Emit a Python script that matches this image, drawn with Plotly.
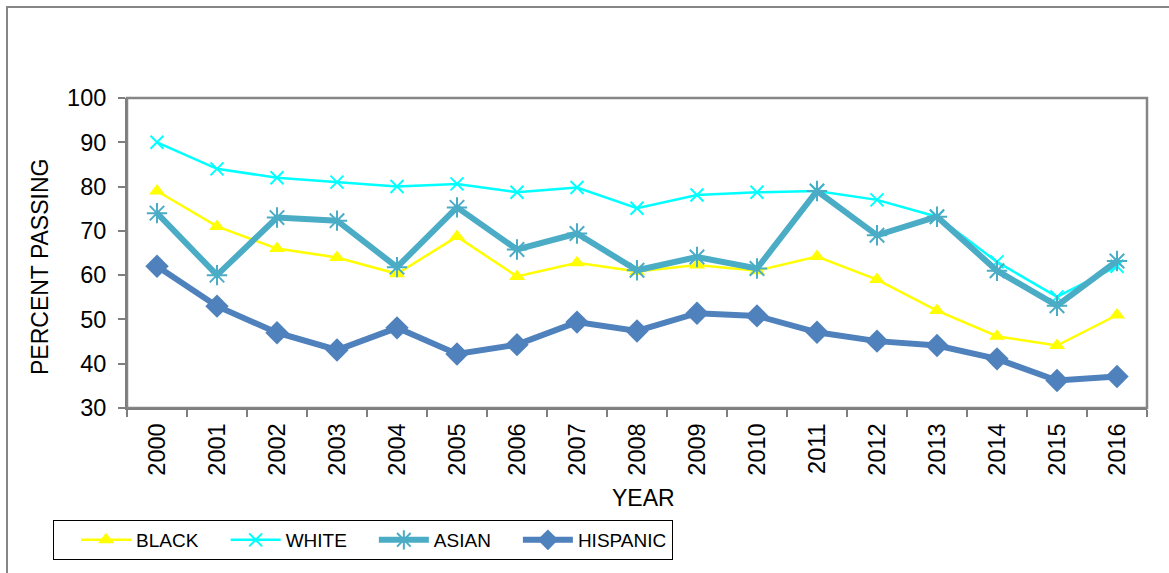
import plotly.graph_objects as go

years = [str(y) for y in range(2000, 2017)]
black = [79, 71, 66, 64, 60.3, 68.7, 59.7, 62.8, 60.8, 62.3, 61, 64.2, 59, 52, 46.2, 44.1, 51]
white = [90, 84, 82, 81, 80, 80.6, 78.7, 79.8, 75.1, 78.1, 78.7, 79, 77, 73.2, 63, 55.1, 62]
asian = [74, 60, 73, 72.3, 61.8, 75.3, 65.8, 69.4, 61.1, 64.1, 61.5, 79, 69, 73.2, 61, 53.1, 63.2]
hispanic = [62, 53, 47, 43.1, 48.1, 42.2, 44.3, 49.4, 47.4, 51.4, 50.8, 47.1, 45.1, 44.1, 41.1, 36.2, 37.1]

W, H = 1169, 573
L, R, T, B = 127, 1147, 98, 408
pw, ph = R - L, B - T

def px(x):
    return (x - L) / pw

def py(y):
    return (B - y) / ph

fig = go.Figure()
fig.add_trace(go.Scatter(x=years, y=black, name="BLACK", mode="lines+markers",
                         line=dict(color="#FFFF00", width=2.5),
                         marker=dict(symbol="triangle-up", size=14, color="#FFFF00")))
fig.add_trace(go.Scatter(x=years, y=white, name="WHITE", mode="lines+markers",
                         line=dict(color="#00FFFF", width=2.5),
                         marker=dict(symbol="x-thin-open", size=13, color="#00FFFF",
                                     line=dict(color="#00FFFF", width=2))))
fig.add_trace(go.Scatter(x=years, y=asian, name="ASIAN", mode="lines+markers",
                         line=dict(color="#4BACC6", width=6),
                         marker=dict(symbol="asterisk-open", size=17, color="#4BACC6",
                                     line=dict(color="#4BACC6", width=2))))
fig.add_trace(go.Scatter(x=years, y=hispanic, name="HISPANIC", mode="lines+markers",
                         line=dict(color="#4F81BD", width=6),
                         marker=dict(symbol="diamond", size=18, color="#4F81BD")))

font = "Liberation Sans, Arial, sans-serif"

fig.update_layout(
    width=W, height=H,
    margin=dict(l=L, r=W - R, t=T, b=H - B, pad=0),
    paper_bgcolor="white", plot_bgcolor="white",
    font=dict(family=font, size=23, color="black"),
    showlegend=True,
    legend=dict(orientation="h", x=px(53), y=py(520), xanchor="left", yanchor="top",
                bordercolor="black", borderwidth=1, bgcolor="white",
                font=dict(size=19), itemwidth=50, indentation=22,
                tracegroupgap=0),
    xaxis=dict(type="category", range=[-0.5, 16.5], showline=True, linecolor="#7f7f7f",
               linewidth=2, ticks="outside", ticklen=7, tickcolor="#7f7f7f", tickwidth=2,
               tickson="boundaries", tickangle=-90, showgrid=False, zeroline=False,
               ticklabelstandoff=4, tickfont=dict(size=23.5)),
    yaxis=dict(range=[30, 100], dtick=10, showline=True, linecolor="#7f7f7f", linewidth=2,
               ticks="outside", ticklen=7, tickcolor="#7f7f7f", tickwidth=2,
               showgrid=False, zeroline=False, ticklabelstandoff=7,
               tickfont=dict(size=23.5)),
    annotations=[
        dict(text="PERCENT PASSING", x=px(40), y=py(267), xref="paper", yref="paper",
             xanchor="center", yanchor="middle",
             textangle=-90, showarrow=False, font=dict(size=23)),
        dict(text="YEAR", x=px(643), y=py(498), xref="paper", yref="paper",
             xanchor="center", yanchor="middle",
             showarrow=False, font=dict(size=23)),
    ],
    shapes=[
        dict(type="rect", xref="paper", yref="paper", x0=0, x1=1, y0=0, y1=1,
             line=dict(color="#868686", width=2.5), layer="below"),
        dict(type="rect", xref="paper", yref="paper", x0=px(7), x1=px(1175), y0=py(580), y1=py(7),
             line=dict(color="#868686", width=2), layer="below"),
    ],
)

fig.write_html("out.html", config={"displayModeBar": False},
               post_script="document.body.style.margin='0';document.body.style.overflow='hidden';")
